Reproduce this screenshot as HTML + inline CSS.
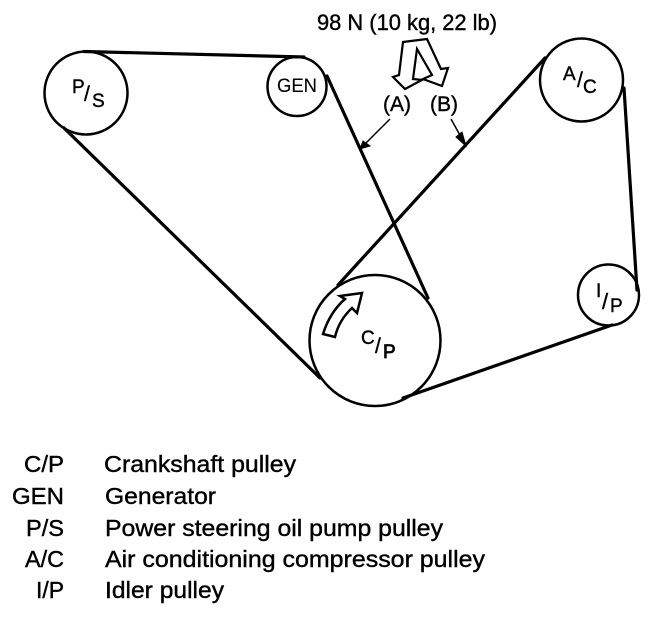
<!DOCTYPE html>
<html>
<head>
<meta charset="utf-8">
<style>
html,body{margin:0;padding:0;background:#fff;width:672px;height:618px;overflow:hidden}
svg{display:block}
text{font-family:"Liberation Sans",Arial,sans-serif;fill:#000;stroke:#000;stroke-width:.4}
</style>
</head>
<body>
<svg width="672" height="618" viewBox="0 0 672 618" xmlns="http://www.w3.org/2000/svg">
<g fill="none" stroke="#000" stroke-width="2.5">
<circle cx="86" cy="93" r="41.5"/>
<circle cx="297" cy="86.5" r="29.5"/>
<circle cx="581.5" cy="80" r="41.5"/>
<circle cx="608.5" cy="295" r="30.5"/>
<circle cx="375" cy="340.5" r="65.5"/>
</g>
<g fill="none" stroke="#000" stroke-width="3.2" stroke-linecap="round">
<path d="M84 51.5 L304 57"/>
<path d="M327 76 L428 298"/>
<path d="M338 285 L545 58"/>
<path d="M624 88 L637 290"/>
<path d="M612 325 L403 398"/>
<path d="M64 128 L320 378"/>
</g>
<path d="M403 42 L427 39 L441 69 L448 68 L442 86 L423 79 L432 75 L417 49 L413 79 L422 80 L405 89 L393 77 L399 75 Z" fill="#fff" stroke="#000" stroke-width="2.2" stroke-linejoin="miter"/>
<path d="M323 334 L335 337 Q339 320 352 308 L357 313 L362 293 L340 296 L345 299 Q330 312 323 334 Z" fill="#fff" stroke="#000" stroke-width="2.5" stroke-linejoin="miter"/>
<g stroke="#000" fill="#000">
<path d="M390 119 L362 147" stroke-width="1.5"/>
<path d="M360 149 L363 141 L370 146 Z" stroke-width="1"/>
<path d="M451 119 L466 146" stroke-width="1.5"/>
<path d="M466 146 L456 137 L462 132 Z" stroke-width="1"/>
</g>
<g font-size="22">
<text x="317" y="30" textLength="180" lengthAdjust="spacingAndGlyphs">98 N (10 kg, 22 lb)</text>
<text x="383" y="111" font-size="21" textLength="28" lengthAdjust="spacingAndGlyphs">(A)</text>
<text x="430" y="111" font-size="21" textLength="28" lengthAdjust="spacingAndGlyphs">(B)</text>
</g>
<g font-size="19">
<text x="72" y="93">P</text><text x="84" y="101" font-size="21">/</text><text x="92" y="107">S</text>
<text x="277" y="92" font-size="19" textLength="40" lengthAdjust="spacingAndGlyphs" style="stroke-width:.1">GEN</text>
<text x="563" y="80">A</text><text x="577" y="87" font-size="21">/</text><text x="583" y="93">C</text>
<text x="596" y="297">I</text><text x="602" y="309" font-size="22">/</text><text x="610" y="312">P</text>
<text x="361" y="344">C</text><text x="375" y="353" font-size="21">/</text><text x="383" y="358" style="stroke-width:.8">P</text>
</g>
<g font-size="23" style="stroke-width:.2">
<text x="24" y="472" textLength="40" lengthAdjust="spacingAndGlyphs">C/P</text><text x="104" y="472" textLength="192" lengthAdjust="spacingAndGlyphs">Crankshaft pulley</text>
<text x="12" y="504" textLength="52" lengthAdjust="spacingAndGlyphs">GEN</text><text x="105" y="504" textLength="111" lengthAdjust="spacingAndGlyphs">Generator</text>
<text x="26" y="536" textLength="38" lengthAdjust="spacingAndGlyphs">P/S</text><text x="105" y="536" textLength="338" lengthAdjust="spacingAndGlyphs">Power steering oil pump pulley</text>
<text x="25" y="567" textLength="39" lengthAdjust="spacingAndGlyphs">A/C</text><text x="105" y="567" textLength="380" lengthAdjust="spacingAndGlyphs">Air conditioning compressor pulley</text>
<text x="36" y="598" textLength="28" lengthAdjust="spacingAndGlyphs">I/P</text><text x="105" y="598" textLength="119" lengthAdjust="spacingAndGlyphs">Idler pulley</text>
</g>
</svg>
</body>
</html>
